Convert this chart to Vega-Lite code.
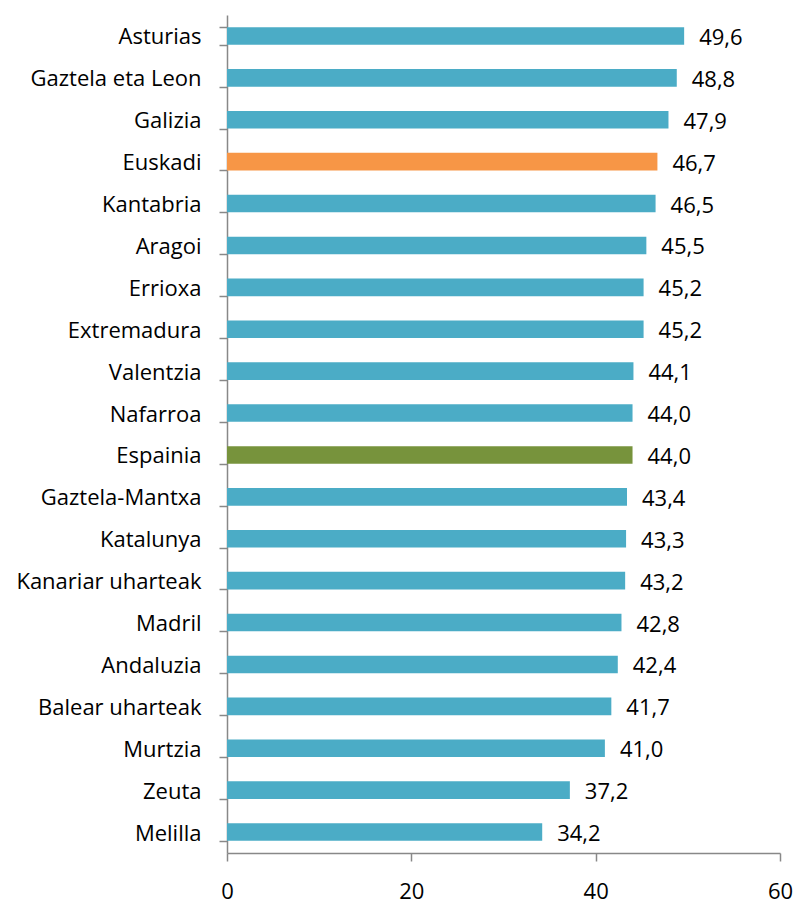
{
  "$schema": "https://vega.github.io/schema/vega-lite/v6.json",
  "autosize": "none",
  "width": 553,
  "height": 838,
  "padding": {"left": 227, "top": 15, "right": 19, "bottom": 53},
  "config": {
    "locale": {"number": {"decimal": ",", "thousands": ".", "grouping": [3], "currency": ["", " €"]}},
    "view": {"stroke": null},
    "font": "Open Sans"
  },
  "data": {
    "values": [
      {"region": "Asturias", "value": 49.6, "group": "other"},
      {"region": "Gaztela eta Leon", "value": 48.8, "group": "other"},
      {"region": "Galizia", "value": 47.9, "group": "other"},
      {"region": "Euskadi", "value": 46.7, "group": "euskadi"},
      {"region": "Kantabria", "value": 46.5, "group": "other"},
      {"region": "Aragoi", "value": 45.5, "group": "other"},
      {"region": "Errioxa", "value": 45.2, "group": "other"},
      {"region": "Extremadura", "value": 45.2, "group": "other"},
      {"region": "Valentzia", "value": 44.1, "group": "other"},
      {"region": "Nafarroa", "value": 44.0, "group": "other"},
      {"region": "Espainia", "value": 44.0, "group": "espainia"},
      {"region": "Gaztela-Mantxa", "value": 43.4, "group": "other"},
      {"region": "Katalunya", "value": 43.3, "group": "other"},
      {"region": "Kanariar uharteak", "value": 43.2, "group": "other"},
      {"region": "Madril", "value": 42.8, "group": "other"},
      {"region": "Andaluzia", "value": 42.4, "group": "other"},
      {"region": "Balear uharteak", "value": 41.7, "group": "other"},
      {"region": "Murtzia", "value": 41.0, "group": "other"},
      {"region": "Zeuta", "value": 37.2, "group": "other"},
      {"region": "Melilla", "value": 34.2, "group": "other"}
    ]
  },
  "encoding": {
    "y": {
      "field": "region", "type": "nominal", "sort": null,
      "scale": {"paddingInner": 0.58, "paddingOuter": 0.29},
      "axis": {
        "title": null, "domainColor": "#888888", "domainWidth": 1.5,
        "tickColor": "#888888", "tickWidth": 1.5, "tickSize": 8, "tickBand": "extent",
        "labelFontSize": 22, "labelColor": "#000000", "labelPadding": 18,
        "labelFont": "Open Sans", "labelLimit": 400, "labelOffset": 1
      }
    },
    "x": {
      "field": "value", "type": "quantitative",
      "scale": {"domain": [0, 60], "nice": false},
      "axis": {
        "title": null, "values": [0, 20, 40, 60], "grid": false,
        "domainColor": "#888888", "domainWidth": 1.5,
        "tickColor": "#888888", "tickWidth": 1.5, "tickSize": 8,
        "labelFontSize": 22, "labelColor": "#000000", "labelPadding": 20,
        "labelFont": "Open Sans", "labelFlush": false
      }
    }
  },
  "layer": [
    {
      "mark": {"type": "bar"},
      "encoding": {
        "color": {
          "field": "group", "type": "nominal", "legend": null,
          "scale": {"domain": ["other", "euskadi", "espainia"], "range": ["#4BACC6", "#F79646", "#77933C"]}
        }
      }
    },
    {
      "mark": {"type": "text", "align": "left", "baseline": "middle", "dx": 15, "dy": 2, "fontSize": 22, "color": "#000000", "font": "Open Sans"},
      "encoding": {
        "text": {"field": "value", "type": "quantitative", "format": ".1f"}
      }
    }
  ]
}
